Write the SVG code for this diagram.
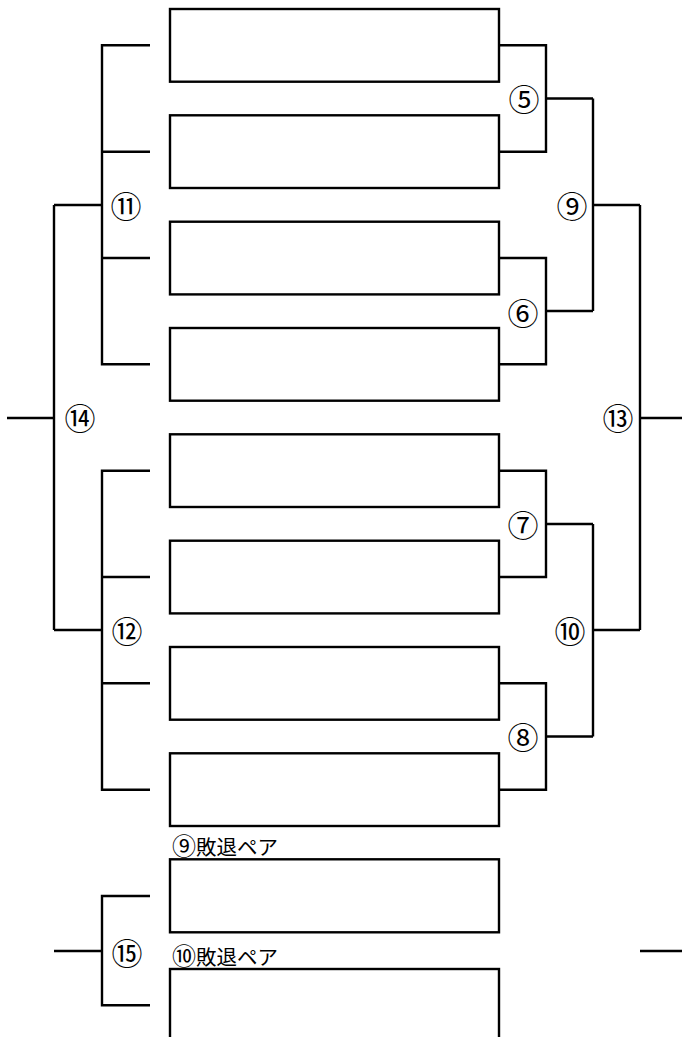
<svg xmlns="http://www.w3.org/2000/svg" width="682" height="1037" viewBox="0 0 682 1037">
<style>
.box{fill:#fff;stroke:#000;stroke-width:2.4}
.ln{fill:none;stroke:#000;stroke-width:2.4}
.lb{font-family:"Noto Sans CJK JP","DejaVu Sans",sans-serif;font-size:31px;text-anchor:middle;dominant-baseline:central;fill:#000}
.cap{font-family:"Noto Sans CJK JP","DejaVu Sans",sans-serif;font-size:20.5px;fill:#000}
.cn{font-size:24px}
</style>
<rect width="682" height="1037" fill="#fff"/>
<g id="connectors" class="ln">
<path d="M150,45.3H102V364.3H150M102,151.7H150M102,258H150M102,205H54"/>
<path d="M150,470.7H102V789.7H150M102,577H150M102,683.3H150M102,630H54"/>
<path d="M54,205V630M7,418H54"/>
<path d="M499,45.3H546V151.7H499M546,98.5H593"/>
<path d="M499,258H546V364.3H499M546,311H593"/>
<path d="M593,98.5V311M593,205H640"/>
<path d="M499,470.7H546V577H499M546,524H593"/>
<path d="M499,683.3H546V789.7H499M546,736.5H593"/>
<path d="M593,524V736.5M593,630H640"/>
<path d="M640,205V630M640,418H682"/>
<path d="M150,896H102V1005.3H150M54,951H102"/>
<path d="M640,951H682"/>
</g>
<g id="box1"><rect class="box" x="170" y="9" width="329" height="72.7"/></g>
<g id="box2"><rect class="box" x="170" y="115.3" width="329" height="72.7"/></g>
<g id="box3"><rect class="box" x="170" y="221.7" width="329" height="72.7"/></g>
<g id="box4"><rect class="box" x="170" y="328" width="329" height="72.7"/></g>
<g id="box5"><rect class="box" x="170" y="434.3" width="329" height="72.7"/></g>
<g id="box6"><rect class="box" x="170" y="540.7" width="329" height="72.7"/></g>
<g id="box7"><rect class="box" x="170" y="647" width="329" height="72.7"/></g>
<g id="box8"><rect class="box" x="170" y="753.3" width="329" height="72.7"/></g>
<g id="box9"><rect class="box" x="170" y="859.3" width="329" height="73"/><text class="cap" x="172" y="855"><tspan class="cn">⑨</tspan>敗退ペア</text></g>
<g id="box10"><rect class="box" x="170" y="969" width="329" height="80"/><text class="cap" x="172" y="965"><tspan class="cn">⑩</tspan>敗退ペア</text></g>
<g id="labels">
<text class="lb" x="524" y="97">⑤</text>
<text class="lb" x="523" y="311">⑥</text>
<text class="lb" x="523" y="523.5">⑦</text>
<text class="lb" x="523" y="735.7">⑧</text>
<text class="lb" x="572" y="204">⑨</text>
<text class="lb" x="570" y="629.5">⑩</text>
<text class="lb" x="126" y="204.5">⑪</text>
<text class="lb" x="127" y="629.5">⑫</text>
<text class="lb" x="618" y="416.5">⑬</text>
<text class="lb" x="80" y="416">⑭</text>
<text class="lb" x="127" y="951">⑮</text>
</g>
</svg>
